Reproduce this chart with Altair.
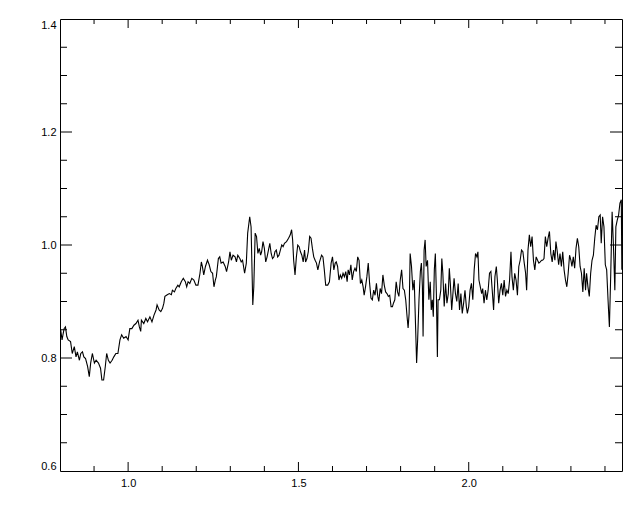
import altair as alt
import pandas as pd

wavelength = [
    0.802, 0.806, 0.812, 0.816, 0.820, 0.824, 0.831, 0.836, 0.842, 0.847,
    0.851, 0.857, 0.861, 0.866, 0.870, 0.875, 0.881, 0.886, 0.890, 0.895,
    0.901, 0.906, 0.913, 0.919, 0.923, 0.928, 0.933, 0.937, 0.942, 0.947,
    0.953, 0.958, 0.964, 0.970, 0.976, 0.981, 0.987, 0.994, 1.000, 1.005,
    1.011, 1.017, 1.023, 1.029, 1.033, 1.037, 1.039, 1.046, 1.052, 1.057,
    1.064, 1.070, 1.076, 1.082, 1.085, 1.091, 1.096, 1.101, 1.105, 1.108,
    1.115, 1.121, 1.127, 1.130, 1.136, 1.140, 1.146, 1.150, 1.156, 1.162,
    1.168, 1.172, 1.176, 1.181, 1.187, 1.193, 1.199, 1.205, 1.211, 1.215,
    1.218, 1.222, 1.227, 1.233, 1.238, 1.243, 1.248, 1.252, 1.256, 1.259,
    1.265, 1.269, 1.273, 1.279, 1.285, 1.289, 1.295, 1.299, 1.303, 1.308,
    1.314, 1.318, 1.322, 1.328, 1.332, 1.336, 1.342, 1.347,
    1.351, 1.357, 1.361, 1.366, 1.369, 1.373, 1.377, 1.381, 1.385, 1.389,
    1.392, 1.396, 1.400, 1.404, 1.408, 1.412, 1.416, 1.420, 1.424, 1.428,
    1.431, 1.435, 1.439, 1.443, 1.447, 1.451, 1.455, 1.459, 1.465, 1.471,
    1.476, 1.480, 1.483, 1.486, 1.490, 1.494, 1.498, 1.502, 1.506, 1.510,
    1.514, 1.518, 1.521, 1.525, 1.529, 1.533, 1.537, 1.541, 1.545, 1.549,
    1.553, 1.557, 1.562, 1.568, 1.572, 1.576, 1.580, 1.586, 1.591, 1.596,
    1.600, 1.604, 1.608, 1.611,
    1.615, 1.619, 1.623, 1.627, 1.631, 1.635, 1.639, 1.643, 1.646, 1.650,
    1.654, 1.658, 1.662, 1.666, 1.670, 1.674, 1.678, 1.682, 1.686, 1.690,
    1.693, 1.697, 1.701, 1.705, 1.709, 1.713, 1.717, 1.721, 1.725, 1.729,
    1.733, 1.736, 1.740, 1.744, 1.748, 1.752, 1.756, 1.760, 1.764, 1.768,
    1.772, 1.776, 1.779, 1.783, 1.787, 1.791, 1.795, 1.799, 1.803, 1.807,
    1.811, 1.815, 1.819, 1.822, 1.825, 1.828, 1.832, 1.836, 1.840, 1.844,
    1.847, 1.850, 1.854, 1.858, 1.861, 1.864, 1.866, 1.869, 1.872, 1.875,
    1.879, 1.883, 1.887, 1.890, 1.893, 1.896, 1.899, 1.902, 1.905, 1.908,
    1.910, 1.914, 1.918, 1.921, 1.924, 1.928, 1.932, 1.936, 1.940, 1.943,
    1.946, 1.950, 1.953, 1.957, 1.961, 1.965, 1.969, 1.973, 1.977, 1.981,
    1.985, 1.989, 1.993, 1.996, 2.000, 2.004, 2.008, 2.012, 2.016, 2.020,
    2.024, 2.027,
    2.030, 2.034, 2.038, 2.041, 2.045, 2.049, 2.053, 2.057, 2.061, 2.065,
    2.069, 2.073, 2.077, 2.081, 2.084, 2.088, 2.092, 2.096, 2.100, 2.104,
    2.108, 2.112, 2.116, 2.120, 2.124, 2.127, 2.131, 2.135, 2.139, 2.143,
    2.147, 2.151, 2.155, 2.159, 2.163, 2.167, 2.170, 2.174, 2.178, 2.182,
    2.186, 2.190, 2.194, 2.198, 2.202, 2.206, 2.210, 2.214, 2.217, 2.221,
    2.225, 2.229, 2.233, 2.237, 2.241, 2.245, 2.249, 2.253, 2.256, 2.260,
    2.264, 2.268, 2.272, 2.276, 2.280, 2.284, 2.288, 2.292, 2.296, 2.300,
    2.303, 2.307, 2.311, 2.315, 2.319, 2.323, 2.327, 2.331, 2.335, 2.339,
    2.343, 2.346, 2.350, 2.354, 2.358, 2.362, 2.366, 2.370, 2.374, 2.378,
    2.382, 2.386, 2.389, 2.393, 2.397, 2.401, 2.405, 2.409, 2.413, 2.417,
    2.421, 2.425, 2.429, 2.432, 2.436, 2.440, 2.444, 2.448, 2.4495,
]

flux = [
    0.850, 0.832, 0.852, 0.855, 0.838, 0.832, 0.829, 0.808, 0.820, 0.802,
    0.811, 0.796, 0.808, 0.811, 0.802, 0.799, 0.785, 0.767, 0.791, 0.808,
    0.791, 0.796, 0.791, 0.782, 0.761, 0.761, 0.785, 0.808, 0.796, 0.791,
    0.796, 0.802, 0.808, 0.808, 0.832, 0.841, 0.835, 0.838, 0.832, 0.852,
    0.852, 0.858, 0.861, 0.867, 0.855, 0.847, 0.867, 0.861, 0.870, 0.864,
    0.873, 0.864, 0.876, 0.885, 0.894, 0.885, 0.882, 0.888, 0.897, 0.909,
    0.912, 0.914, 0.912, 0.920, 0.917, 0.923, 0.929, 0.926, 0.935, 0.941,
    0.935, 0.926, 0.935, 0.932, 0.941, 0.938, 0.929, 0.929, 0.950, 0.970,
    0.962, 0.947, 0.962, 0.973, 0.965, 0.953, 0.950, 0.926, 0.938, 0.944,
    0.976, 0.979, 0.968, 0.970, 0.962, 0.953, 0.970, 0.988, 0.973, 0.982,
    0.979, 0.970, 0.982, 0.976, 0.970, 0.973, 0.950, 0.968,
    1.021, 1.050, 1.032, 0.894, 0.926, 1.021, 1.015, 0.985, 0.994, 0.982,
    0.988, 1.006, 0.994, 0.970, 0.979, 0.991, 1.003, 0.985, 0.976, 0.979,
    0.988, 0.991, 0.979, 0.982, 0.991, 1.000, 0.997, 1.003, 1.006, 1.012,
    1.018, 1.027, 1.009, 0.973, 0.947, 0.979, 1.000, 0.997, 0.988, 0.982,
    0.970, 0.991, 0.970, 0.976, 0.988, 1.015, 1.012, 0.994, 0.979, 0.973,
    0.968, 0.956, 0.970, 0.982, 0.979, 0.956, 0.929, 0.929, 0.935, 0.968,
    0.979, 0.956, 0.968, 0.970,
    0.962, 0.938, 0.947, 0.941, 0.950, 0.944, 0.953, 0.935, 0.956, 0.947,
    0.965, 0.938, 0.953, 0.959, 0.953, 0.979, 0.973, 0.932, 0.938, 0.926,
    0.911, 0.926, 0.944, 0.968, 0.932, 0.906, 0.903, 0.920, 0.911, 0.932,
    0.909, 0.900, 0.923, 0.914, 0.947, 0.929, 0.917, 0.914, 0.909, 0.911,
    0.891, 0.891, 0.897, 0.903, 0.935, 0.917, 0.909, 0.938, 0.956, 0.923,
    0.920, 0.903, 0.873, 0.853, 0.879, 0.985, 0.962, 0.920, 0.938, 0.855,
    0.791, 0.832, 0.903, 0.953, 0.968, 0.926, 0.838, 0.991, 1.009, 0.962,
    0.973, 0.903, 0.935, 0.885, 0.903, 0.873, 0.956, 0.985, 0.914, 0.802,
    0.903, 0.903, 0.920, 0.976, 0.950, 0.891, 0.932, 0.897, 0.914, 0.959,
    0.932, 0.885, 0.909, 0.941, 0.914, 0.900, 0.932, 0.885, 0.914, 0.879,
    0.897, 0.920, 0.891, 0.879, 0.891, 0.920, 0.932, 0.903, 0.956, 0.985,
    0.979, 0.988,
    0.938, 0.926, 0.914, 0.923, 0.897, 0.920, 0.903, 0.920, 0.950, 0.953,
    0.920, 0.885, 0.944, 0.962, 0.938, 0.897, 0.920, 0.932, 0.911, 0.938,
    0.909, 0.920, 0.914, 0.938, 0.988, 0.944, 0.920, 0.950, 0.938, 0.911,
    0.962, 0.973, 0.991, 0.988, 0.968, 0.950, 0.920, 0.991, 1.018, 0.997,
    1.015, 0.973, 0.956, 0.979, 0.973, 0.968, 0.970, 0.973, 0.973, 0.976,
    1.015, 0.997, 1.012, 1.024, 0.985, 0.970, 0.991, 0.973, 1.006, 0.988,
    0.965, 0.985, 0.962, 0.988, 0.956, 0.938, 0.926, 0.950, 0.982, 0.973,
    0.962, 0.979, 0.959, 0.994, 1.012, 0.997, 0.962, 0.950, 0.917, 0.959,
    0.920, 0.950, 0.926, 0.909, 0.950, 0.973, 0.982, 1.012, 1.035, 1.027,
    1.050, 1.053, 1.003, 1.050, 1.032, 0.965, 0.956, 0.903, 0.855, 0.950,
    1.059, 0.997, 0.920, 1.032, 1.044, 1.053, 1.074, 1.080, 0.956,
]

x_label_values = [1.0, 1.5, 2.0]
y_label_values = [0.6, 0.8, 1.0, 1.2, 1.4]
x_major_ticks = [1.0, 1.5, 2.0]
x_minor_ticks = [0.9, 1.1, 1.2, 1.3, 1.4, 1.6, 1.7, 1.8, 1.9, 2.1, 2.2, 2.3, 2.4]
y_major_ticks = [0.8, 1.0, 1.2]
y_minor_ticks = [0.65, 0.7, 0.75, 0.85, 0.9, 0.95, 1.05, 1.1, 1.15, 1.25, 1.3, 1.35]

W, H = 562, 452
FONT = "Liberation Sans"

xs = alt.Scale(domain=[0.8, 2.45], nice=False, zero=False)
ys = alt.Scale(domain=[0.6, 1.4], nice=False, zero=False)

x_axis = alt.Axis(
    values=x_label_values, format=".1f", ticks=False, domain=False, grid=False,
    labelPadding=6, labelFontSize=11, labelFont=FONT, labelColor="black",
    title=None)
y_axis = alt.Axis(
    values=y_label_values, format=".1f", ticks=False, domain=False, grid=False,
    labelPadding=4, labelFlush=True, labelFontSize=11, labelFont=FONT,
    labelColor="black", title=None)

df = pd.DataFrame({"w": wavelength, "f": flux})

line = alt.Chart(df).mark_line(color="black", strokeWidth=1.1, clip=True).encode(
    x=alt.X("w:Q", scale=xs, axis=x_axis, title=None),
    y=alt.Y("f:Q", scale=ys, axis=y_axis, title=None),
)


def xticks(vals, length):
    d = pd.DataFrame({"w": vals})
    base = alt.Chart(d).mark_rule(color="black", strokeWidth=1)
    bottom = base.encode(x=alt.X("w:Q", scale=xs, axis=x_axis, title=None),
                         y=alt.value(H), y2=alt.value(H - length))
    top = base.encode(x=alt.X("w:Q", scale=xs, axis=x_axis, title=None),
                      y=alt.value(0), y2=alt.value(length))
    return [bottom, top]


def yticks(vals, length):
    d = pd.DataFrame({"f": vals})
    base = alt.Chart(d).mark_rule(color="black", strokeWidth=1)
    left = base.encode(y=alt.Y("f:Q", scale=ys, axis=y_axis, title=None),
                       x=alt.value(0), x2=alt.value(length))
    right = base.encode(y=alt.Y("f:Q", scale=ys, axis=y_axis, title=None),
                        x=alt.value(W), x2=alt.value(W - length))
    return [left, right]


layers = [line] + xticks(x_major_ticks, 9) + xticks(x_minor_ticks, 5) \
    + yticks(y_major_ticks, 12) + yticks(y_minor_ticks, 7)

chart = alt.layer(*layers).properties(
    width=W, height=H,
    autosize=alt.AutoSizeParams(type="none"),
    padding={"left": 52, "top": 11, "right": 10, "bottom": 35},
    background="white",
).configure_view(stroke="black", strokeWidth=1)

chart.save("out.html", embed_options={"renderer": "svg", "actions": False})
